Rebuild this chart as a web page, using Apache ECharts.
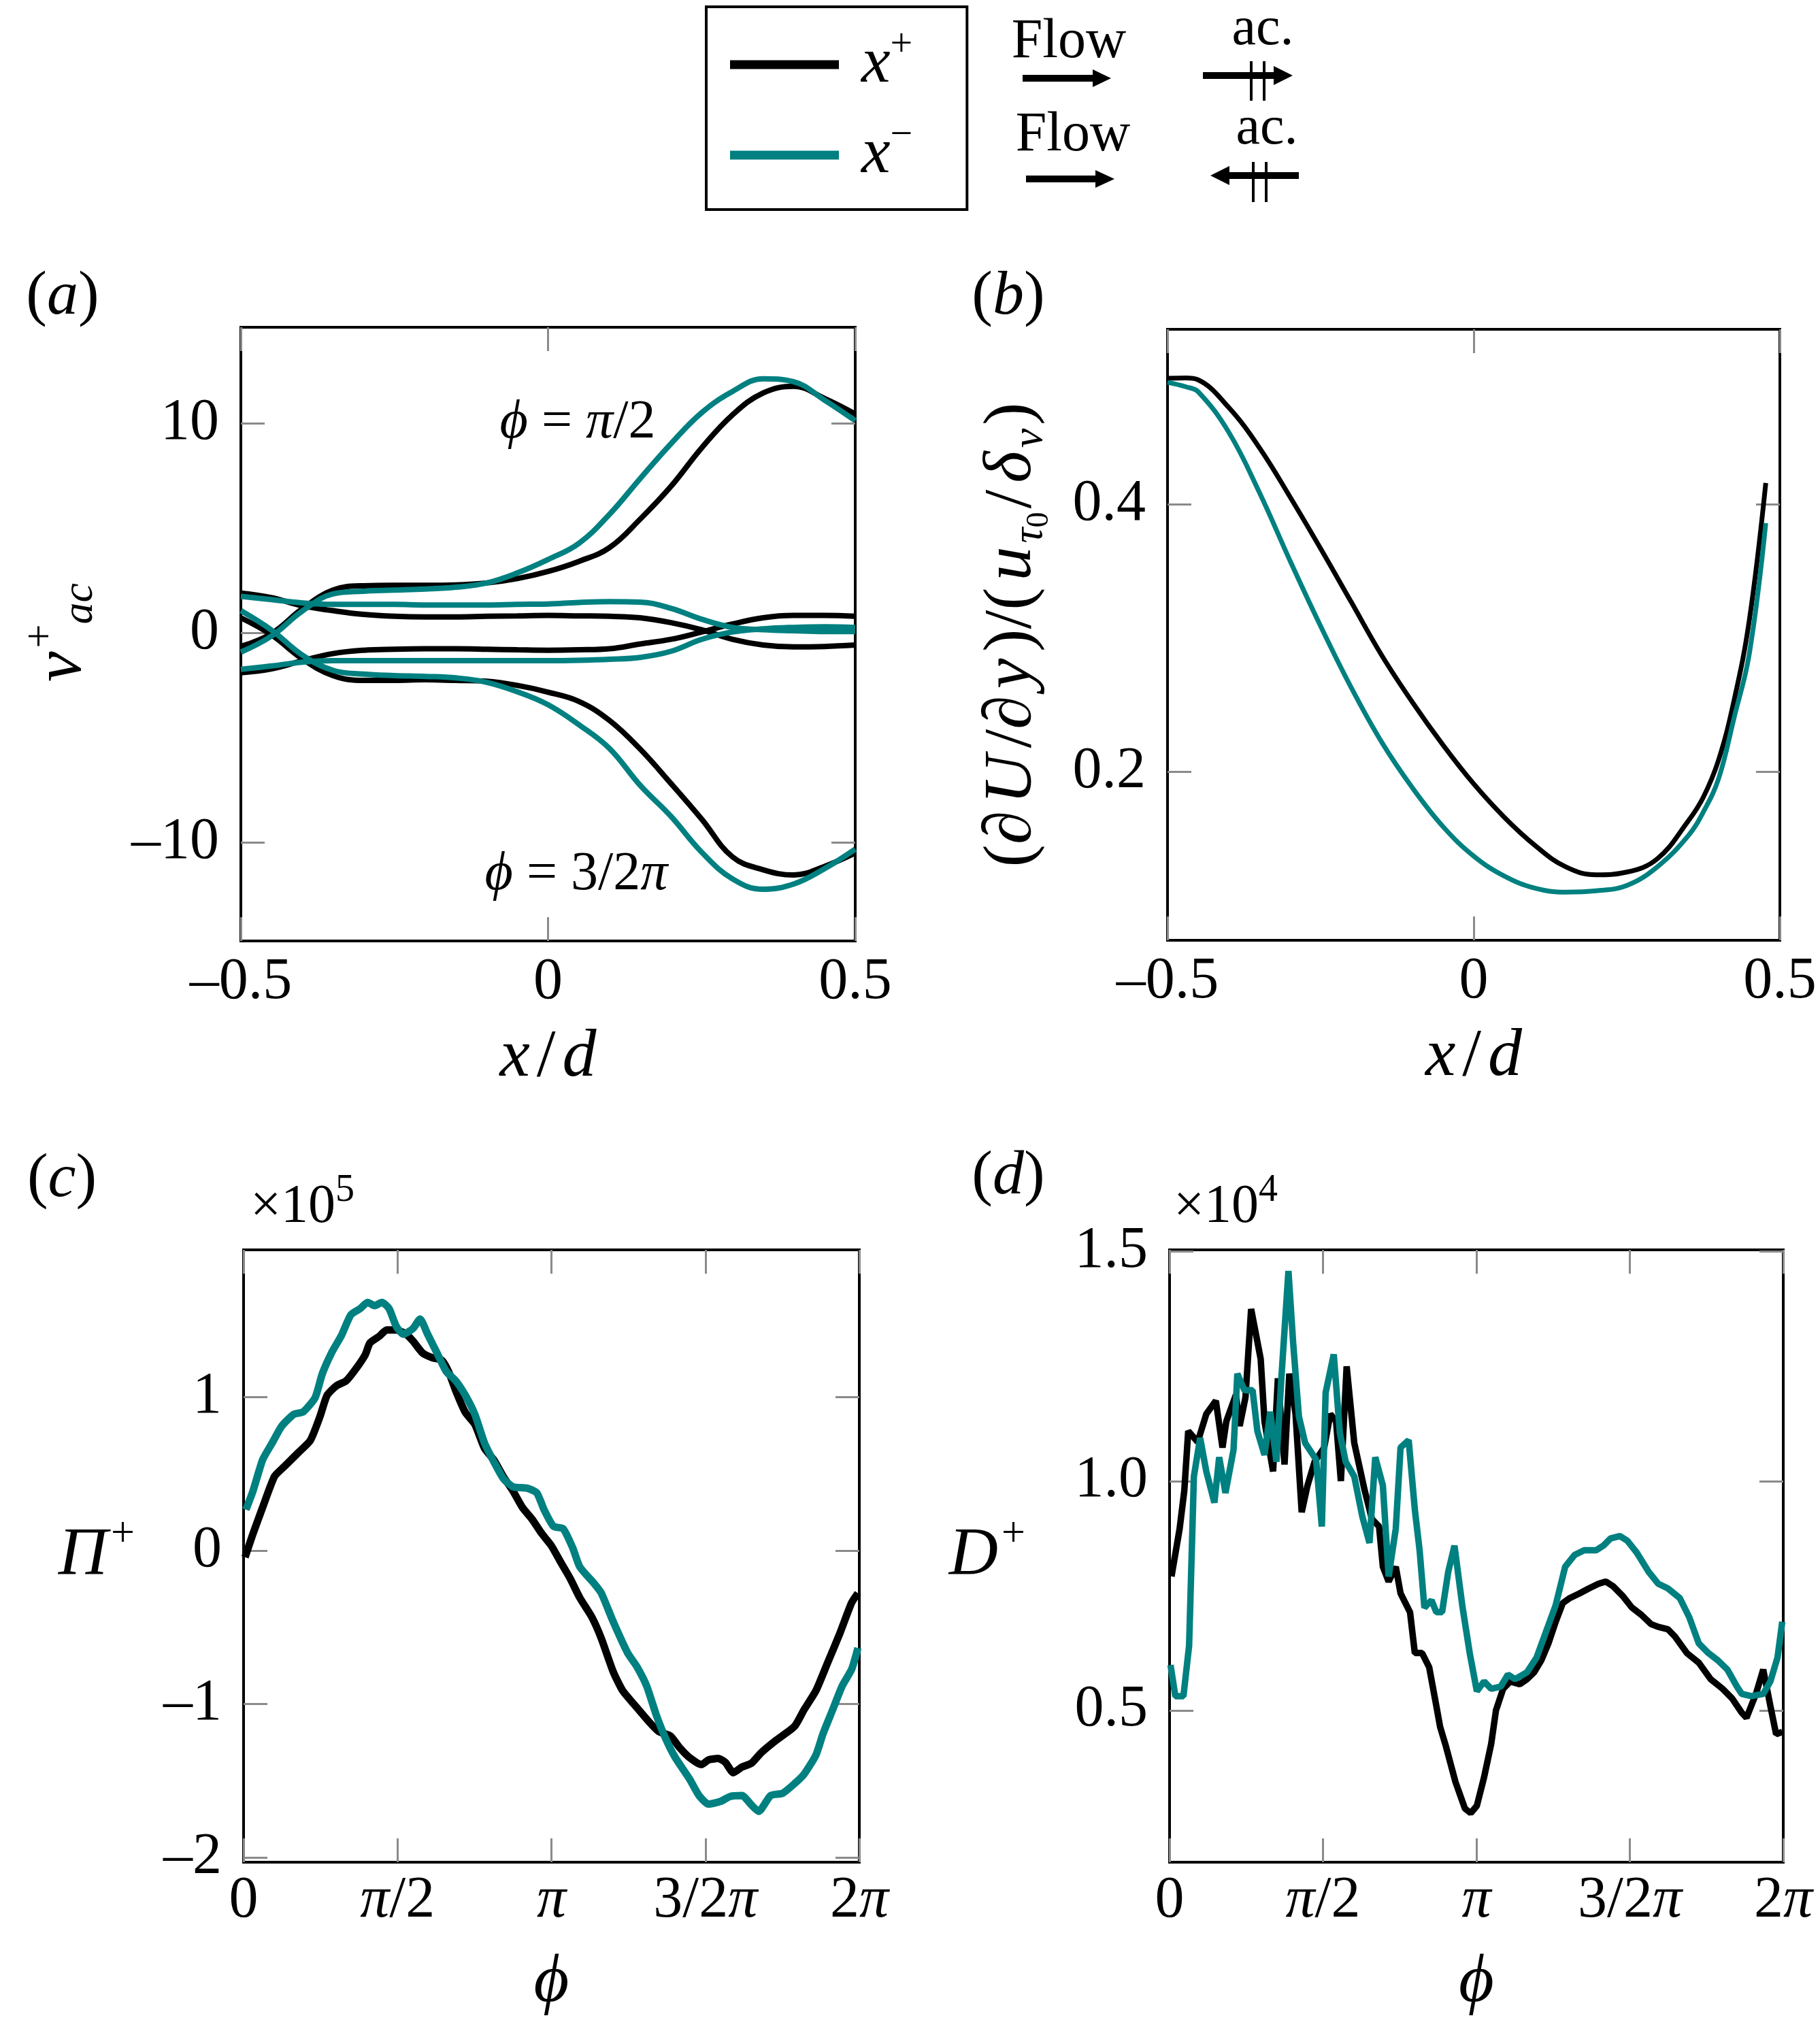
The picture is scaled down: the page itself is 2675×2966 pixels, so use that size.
<!DOCTYPE html>
<html><head><meta charset="utf-8">
<script src="https://cdn.jsdelivr.net/npm/echarts@6/dist/echarts.min.js"></script>
<style>html,body{margin:0;padding:0;background:#fff}#c{width:2675px;height:2966px}</style>
</head><body><div id="c"></div>
<script>
// ---------------- DATA ----------------
// panel (a): v+_ac vs x/d
const aX = [-0.5,-0.45,-0.4,-0.35,-0.3,-0.25,-0.2,-0.15,-0.1,-0.05,0,0.05,0.1,0.15,0.2,0.25,0.3,0.35,0.4,0.45,0.5];
const aPlusHalfPi  = [-0.64,-0.02,1.16,2.05,2.26,2.28,2.28,2.3,2.39,2.6,2.94,3.42,4.08,5.44,7.0,8.84,10.41,11.46,11.78,11.2,10.46];
const aMinusHalfPi = [-0.91,-0.14,1.05,1.87,2.0,2.05,2.1,2.19,2.39,2.87,3.51,4.28,5.67,7.38,9.04,10.52,11.53,12.14,12.0,11.12,10.14];
const aPlus3HalfPi  = [0.73,-0.09,-1.23,-2.03,-2.26,-2.26,-2.23,-2.26,-2.3,-2.5,-2.82,-3.26,-4.17,-5.54,-7.18,-8.88,-10.68,-11.3,-11.55,-11.14,-10.5];
const aMinus3HalfPi = [1.07,0.14,-1.05,-1.78,-1.96,-2.03,-2.07,-2.14,-2.35,-2.8,-3.42,-4.37,-5.51,-7.27,-8.75,-10.46,-11.73,-12.23,-11.98,-11.25,-10.32];
const aPlusZero  = [1.91,1.69,1.3,1.07,0.89,0.8,0.77,0.77,0.8,0.82,0.84,0.82,0.8,0.73,0.5,0.16,-0.3,-0.57,-0.66,-0.64,-0.57];
const aPlusPi    = [-1.89,-1.71,-1.32,-0.98,-0.82,-0.77,-0.75,-0.75,-0.77,-0.8,-0.82,-0.8,-0.75,-0.52,-0.3,0.05,0.43,0.73,0.84,0.84,0.8];
const aMinusZero = [1.75,1.6,1.44,1.37,1.37,1.37,1.34,1.34,1.34,1.37,1.39,1.46,1.5,1.48,1.18,0.66,0.27,0.16,0.11,0.07,0.07];
const aMinusPi   = [-1.73,-1.57,-1.39,-1.32,-1.32,-1.32,-1.32,-1.32,-1.32,-1.32,-1.32,-1.3,-1.25,-1.16,-0.87,-0.3,0.05,0.2,0.27,0.3,0.27];

// panel (b): shear
const bX = [-0.5,-0.47,-0.45,-0.4,-0.35,-0.3,-0.25,-0.2,-0.15,-0.1,-0.05,0,0.05,0.1,0.15,0.2,0.25,0.3,0.35,0.375,0.4,0.425,0.45,0.477];
const bPlus  = [0.4943,0.4946,0.4932,0.4725,0.4425,0.4057,0.367,0.327,0.287,0.252,0.22,0.191,0.166,0.145,0.129,0.123,0.125,0.135,0.163,0.181,0.209,0.253,0.313,0.416];
const bMinus = [0.4914,0.488,0.4843,0.454,0.409,0.358,0.309,0.263,0.222,0.188,0.159,0.137,0.122,0.113,0.110,0.111,0.115,0.129,0.152,0.170,0.195,0.240,0.288,0.386];

// panel (c): Pi+ (x1e5) vs phi
const cPlusPhi = [0.015,0.097,0.195,0.316,0.414,0.560,0.681,0.779,0.852,0.949,1.046,1.144,1.241,1.290,1.387,1.460,1.557,1.655,1.728,1.825,1.922,2.020,2.093,2.166,2.263,2.360,2.458,2.555,2.652,2.750,2.847,2.944,3.042,3.139,3.236,3.334,3.431,3.553,3.650,3.772,3.869,3.991,4.137,4.234,4.356,4.453,4.550,4.672,4.745,4.843,4.916,4.998,5.086,5.183,5.281,5.427,5.621,5.719,5.840,5.962,6.084,6.205,6.269];
const cPlus = [-0.043,0.112,0.283,0.484,0.547,0.640,0.718,0.873,1.012,1.075,1.106,1.183,1.276,1.354,1.398,1.438,1.438,1.413,1.366,1.289,1.258,1.242,1.165,1.041,0.901,0.823,0.668,0.590,0.481,0.388,0.280,0.205,0.112,0.034,-0.075,-0.183,-0.307,-0.432,-0.571,-0.789,-0.913,-1.006,-1.115,-1.177,-1.208,-1.286,-1.348,-1.394,-1.363,-1.354,-1.379,-1.447,-1.410,-1.385,-1.317,-1.239,-1.146,-1.037,-0.913,-0.727,-0.540,-0.339,-0.277];
const cMinusPhi = [0.024,0.097,0.195,0.292,0.389,0.511,0.608,0.730,0.803,0.900,0.998,1.095,1.192,1.265,1.338,1.411,1.484,1.557,1.630,1.728,1.801,1.874,1.971,2.068,2.166,2.263,2.360,2.458,2.555,2.652,2.750,2.896,2.993,3.066,3.163,3.261,3.358,3.431,3.577,3.650,3.772,3.918,4.015,4.113,4.210,4.307,4.405,4.551,4.648,4.745,4.867,4.964,5.086,5.183,5.256,5.378,5.500,5.621,5.719,5.840,5.913,6.011,6.108,6.205,6.269];
const cMinus = [0.267,0.391,0.593,0.702,0.811,0.888,0.904,0.997,1.152,1.292,1.401,1.537,1.578,1.618,1.596,1.618,1.578,1.463,1.410,1.447,1.509,1.416,1.292,1.168,1.106,1.012,0.888,0.702,0.578,0.469,0.416,0.407,0.376,0.267,0.158,0.143,0.019,-0.106,-0.214,-0.276,-0.463,-0.665,-0.758,-0.882,-1.068,-1.224,-1.348,-1.488,-1.596,-1.652,-1.634,-1.602,-1.596,-1.658,-1.699,-1.596,-1.581,-1.519,-1.457,-1.332,-1.193,-1.037,-0.882,-0.773,-0.634];

// panel (d): D+ (x1e4) vs phi
const dPlusPhi = [0.020,0.103,0.151,0.191,0.288,0.376,0.474,0.542,0.581,0.679,0.718,0.777,0.835,0.933,0.972,1.060,1.109,1.177,1.226,1.290,1.353,1.412,1.485,1.583,1.646,1.705,1.754,1.813,1.891,1.998,2.072,2.145,2.184,2.243,2.316,2.365,2.462,2.511,2.585,2.658,2.731,2.770,2.829,2.927,3.024,3.083,3.146,3.220,3.293,3.342,3.415,3.488,3.586,3.659,3.733,3.806,3.879,3.953,4.026,4.099,4.197,4.295,4.392,4.466,4.539,4.637,4.734,4.832,4.930,5.003,5.101,5.174,5.296,5.418,5.540,5.662,5.760,5.858,5.907,6.004,6.078,6.151,6.210,6.273];
const dPlus = [0.792,0.896,0.979,1.109,1.085,1.146,1.175,1.073,1.130,1.188,1.120,1.182,1.375,1.266,1.130,1.021,1.224,1.036,1.234,1.146,0.932,0.990,1.042,1.073,1.146,1.130,1.0,1.250,1.083,0.979,0.917,0.901,0.813,0.781,0.813,0.755,0.714,0.625,0.625,0.594,0.510,0.464,0.422,0.344,0.286,0.276,0.292,0.354,0.427,0.500,0.547,0.563,0.557,0.568,0.583,0.609,0.646,0.693,0.734,0.745,0.755,0.766,0.776,0.781,0.771,0.750,0.724,0.708,0.688,0.682,0.677,0.661,0.625,0.604,0.568,0.547,0.526,0.495,0.484,0.536,0.589,0.510,0.448,0.453];
const dMinusPhi = [0.010,0.059,0.142,0.200,0.249,0.313,0.376,0.459,0.508,0.572,0.655,0.694,0.767,0.850,0.899,0.972,1.031,1.094,1.143,1.217,1.265,1.324,1.388,1.500,1.559,1.598,1.681,1.744,1.803,1.891,1.974,2.047,2.106,2.184,2.243,2.316,2.365,2.448,2.511,2.560,2.609,2.682,2.731,2.790,2.853,2.917,3.000,3.073,3.146,3.220,3.293,3.391,3.464,3.537,3.659,3.757,3.855,3.953,4.050,4.148,4.246,4.368,4.441,4.515,4.612,4.686,4.783,4.905,5.003,5.101,5.223,5.321,5.418,5.516,5.614,5.711,5.809,5.858,5.956,6.078,6.151,6.224,6.273];
const dMinus = [0.599,0.531,0.531,0.641,1.010,1.094,1.021,0.953,1.052,0.974,1.068,1.234,1.198,1.198,1.109,1.057,1.151,1.042,1.219,1.458,1.302,1.141,1.083,1.047,0.901,1.193,1.276,1.104,1.042,1.010,0.922,0.865,1.052,0.990,0.792,0.896,1.073,1.089,0.938,0.849,0.724,0.740,0.714,0.714,0.802,0.859,0.724,0.625,0.542,0.563,0.547,0.552,0.578,0.568,0.583,0.615,0.672,0.729,0.813,0.839,0.849,0.849,0.859,0.875,0.880,0.870,0.844,0.802,0.776,0.766,0.745,0.703,0.646,0.625,0.609,0.589,0.552,0.536,0.531,0.536,0.563,0.615,0.693];

// tick values / labels
const xdTicks = [-0.5, 0, 0.5];
const xdLabels = ['–0.5', '0', '0.5'];
const aYTicks = [-10, 0, 10];
const aYLabels = ['–10', '0', '10'];
const bYTicks = [0.2, 0.4];
const bYLabels = ['0.2', '0.4'];
const phiTicks = [0, 1.5708, 3.1416, 4.7124, 6.2832];
const phiLabels = ['0', '{p|π}/2', '{p|π}', '3/2{p|π}', '2{p|π}'];
const cYTicks = [-2, -1, 0, 1];
const cYLabels = ['–2', '–1', '0', '1'];
const dYTicks = [0.5, 1.0, 1.5];
const dYLabels = ['0.5', '1.0', '1.5'];

// ---------------- STYLE ----------------
const SERIF = 'Liberation Serif';
const BLACK = '#000000';
const TEAL = '#008080';
const zip = (xs, ys) => xs.map((x, i) => [x, ys[i]]);

const grids = [
  {left: 354, top: 481, width: 903, height: 902},
  {left: 1716, top: 484, width: 900, height: 898},
  {left: 358, top: 1837, width: 905, height: 900},
  {left: 1719, top: 1837, width: 902, height: 900}
].map(g => Object.assign(g, {show: true, borderColor: '#000', borderWidth: 4, backgroundColor: 'transparent'}));

const richBase = {
  n: {fontFamily: SERIF, fontSize: 100, color: '#000', padding: [0, 5, 0, 5]},
  i: {fontFamily: SERIF, fontStyle: 'italic', fontSize: 100, color: '#000', padding: [0, 5, 0, 5]},
  sup: {fontFamily: SERIF, fontSize: 62, color: '#000', padding: [0, 0, 62, 0]},
  sub: {fontFamily: SERIF, fontStyle: 'italic', fontSize: 64, color: '#000', padding: [52, 0, 0, 0]},
  subn: {fontFamily: SERIF, fontSize: 46, color: '#000', padding: [80, 0, 0, 0]},
  p: {fontFamily: SERIF, fontStyle: 'italic', fontSize: 86, color: '#000'}
};

function lookup(ticks, labels) {
  return v => {
    const k = ticks.findIndex(t => Math.abs(t - v) < 1e-6);
    return k >= 0 ? labels[k] : '';
  };
}
const tickStyle = (vals) => ({show: true, inside: true, length: 35, customValues: vals, lineStyle: {color: '#8a8a8a', width: 3}});
const noLine = {show: false, onZero: false};

function mkAxes(gi, xr, yr, xt, xl, yt, yl, xname, yname, opt) {
  const xs = [
    {type: 'value', gridIndex: gi, position: 'bottom', min: xr[0], max: xr[1],
     axisLine: noLine, splitLine: {show: false}, axisTick: tickStyle(xt),
     axisLabel: {show: true, customValues: xt, formatter: lookup(xt, xl), margin: opt.xMargin,
                 fontFamily: SERIF, fontSize: 86, color: '#000', rich: richBase},
     name: xname, nameLocation: 'middle', nameGap: opt.xNameGap,
     nameTextStyle: {fontFamily: SERIF, fontSize: 104, color: '#000', rich: richBase}},
    {type: 'value', gridIndex: gi, position: 'top', min: xr[0], max: xr[1],
     axisLine: noLine, splitLine: {show: false}, axisTick: tickStyle(xt), axisLabel: {show: false}}
  ];
  const ys = [
    {type: 'value', gridIndex: gi, position: 'left', min: yr[0], max: yr[1],
     axisLine: noLine, splitLine: {show: false}, axisTick: tickStyle(yt),
     axisLabel: {show: true, customValues: yt, formatter: lookup(yt, yl), margin: 32,
                 fontFamily: SERIF, fontSize: 86, color: '#000'},
     name: yname, nameLocation: 'middle', nameGap: opt.yNameGap, nameRotate: opt.yRot,
     nameTextStyle: {fontFamily: SERIF, fontSize: 100, color: '#000', rich: richBase}},
    {type: 'value', gridIndex: gi, position: 'right', min: yr[0], max: yr[1],
     axisLine: noLine, splitLine: {show: false}, axisTick: tickStyle(yt), axisLabel: {show: false}}
  ];
  return {xs, ys};
}

const A = mkAxes(0, [-0.5, 0.5], [-14.7, 14.6], xdTicks, xdLabels, aYTicks, aYLabels,
  '{i|x}{n|/}{i|d}', '{i|v}{sup|+}{sub|ac}', {xMargin: 18, xNameGap: 122, yNameGap: 200, yRot: 90});
const B = mkAxes(1, [-0.5, 0.5], [0.074, 0.531], xdTicks, xdLabels, bYTicks, bYLabels,
  '{i|x}{n|/}{i|d}', '{n|(∂}{i|U}{n|/∂}{i|y}{n|)/(}{i|u}{sub|τ}{subn|0}{n|/}{i|δ}{sub|ν}{n|)}', {xMargin: 18, xNameGap: 122, yNameGap: 165, yRot: 90});
const C = mkAxes(2, [0, 6.2832], [-2.03, 1.96], phiTicks, phiLabels, cYTicks, cYLabels,
  '{i|ϕ}', '{i|Π}{sup|+}', {xMargin: 14, xNameGap: 128, yNameGap: 160, yRot: 0});
const D = mkAxes(3, [0, 6.2832], [0.169, 1.504], phiTicks, phiLabels, dYTicks, dYLabels,
  '{i|ϕ}', '{i|D}{sup|+}', {xMargin: 14, xNameGap: 128, yNameGap: 212, yRot: 0});

function line(name, color, gi, data, width, smooth) {
  return {type: 'line', name, xAxisIndex: gi * 2, yAxisIndex: gi * 2, data, symbol: 'none',
          smooth: smooth, lineStyle: {color, width}, itemStyle: {color}, color, z: name === 'x-' ? 3 : 2};
}

const series = [
  line('x+', BLACK, 0, zip(aX, aPlusZero), 8, 0.4),
  line('x+', BLACK, 0, zip(aX, aPlusPi), 8, 0.4),
  line('x+', BLACK, 0, zip(aX, aPlusHalfPi), 8, 0.4),
  line('x+', BLACK, 0, zip(aX, aPlus3HalfPi), 8, 0.4),
  line('x-', TEAL, 0, zip(aX, aMinusZero), 8, 0.4),
  line('x-', TEAL, 0, zip(aX, aMinusPi), 8, 0.4),
  line('x-', TEAL, 0, zip(aX, aMinusHalfPi), 8, 0.4),
  line('x-', TEAL, 0, zip(aX, aMinus3HalfPi), 8, 0.4),
  line('x+', BLACK, 1, zip(bX, bPlus), 7, 0.4),
  line('x-', TEAL, 1, zip(bX, bMinus), 7, 0.4),
  line('x+', BLACK, 2, zip(cPlusPhi, cPlus), 11, 0.2),
  line('x-', TEAL, 2, zip(cMinusPhi, cMinus), 11, 0.2),
  line('x+', BLACK, 3, zip(dPlusPhi, dPlus), 9.5, false),
  line('x-', TEAL, 3, zip(dMinusPhi, dMinus), 9.5, false)
];

const T = (x, y, text, size, extra) => ({type: 'text', x, y, silent: true,
  style: Object.assign({text, fontFamily: SERIF, fontSize: size, fill: '#000', align: 'center', verticalAlign: 'middle'}, extra || {})});
const richG = {
  n: {fontFamily: SERIF, fontSize: 92, fill: '#000'},
  i: {fontFamily: SERIF, fontStyle: 'italic', fontSize: 92, fill: '#000'},
  ai: {fontFamily: SERIF, fontStyle: 'italic', fontSize: 80, fill: '#000'},
  an: {fontFamily: SERIF, fontSize: 80, fill: '#000'},
  en: {fontFamily: SERIF, fontSize: 80, fill: '#000'},
  es: {fontFamily: SERIF, fontSize: 56, fill: '#000', padding: [0, 0, 50, 0]}
};
const LN = (x1, y1, x2, y2, w) => ({type: 'line', silent: true, shape: {x1, y1, x2, y2}, style: {stroke: '#000', lineWidth: w}});
const PG = (pts) => ({type: 'polygon', silent: true, shape: {points: pts}, style: {fill: '#000'}});

const graphic = [
  T(92, 437, '{n|(}{i|a}{n|)}', 92, {rich: richG}),
  T(1482, 437, '{n|(}{i|b}{n|)}', 92, {rich: richG}),
  T(91, 1734, '{n|(}{i|c}{n|)}', 92, {rich: richG}),
  T(1482, 1730, '{n|(}{i|d}{n|)}', 92, {rich: richG}),
  T(368, 1775, '{en|×10}{es|5}', 80, {rich: richG, align: 'left'}),
  T(1725, 1775, '{en|×10}{es|4}', 80, {rich: richG, align: 'left'}),
  T(849, 622, '{ai|ϕ}{an| = }{ai|π}{an|/2}', 80, {rich: richG}),
  T(847, 1286, '{ai|ϕ}{an| = 3/2}{ai|π}', 80, {rich: richG}),
  // flow / acoustic direction key
  T(1571, 62, 'Flow', 82),
  T(1577, 199, 'Flow', 82),
  T(1856, 44, 'ac.', 80),
  T(1862, 190, 'ac.', 80),
  LN(1503, 115, 1610, 115, 10), PG([[1606, 102], [1633, 115], [1606, 128]]),
  LN(1508, 263, 1614, 263, 10), PG([[1610, 250], [1638, 263], [1610, 276]]),
  LN(1768, 111, 1878, 111, 10), PG([[1872, 97], [1900, 111], [1872, 125]]),
  LN(1839, 90, 1839, 148, 4), LN(1858, 90, 1858, 148, 4),
  LN(1803, 258, 1909, 258, 10), PG([[1807, 244], [1779, 258], [1807, 272]]),
  LN(1842, 238, 1842, 297, 4), LN(1861, 238, 1861, 297, 4)
];

const chart = echarts.init(document.getElementById('c'), null, {renderer: 'canvas', width: 2675, height: 2966});
chart.setOption({
  animation: false,
  backgroundColor: '#fff',
  grid: grids,
  xAxis: [...A.xs, ...B.xs, ...C.xs, ...D.xs],
  yAxis: [...A.ys, ...B.ys, ...C.ys, ...D.ys],
  legend: {
    data: ['x+', 'x-'], orient: 'vertical', left: 1038, top: 10,
    padding: [28, 80, 30, 35], itemGap: 26, itemWidth: 160, itemHeight: 13, icon: 'rect',
    borderColor: '#000', borderWidth: 4, selectedMode: false,
    formatter: n => n === 'x+' ? '{i|x}{s|+}' : '{i|x}{s|−}',
    textStyle: {lineHeight: 100, rich: {
      i: {fontFamily: SERIF, fontStyle: 'italic', fontSize: 96, color: '#000', padding: [0, 0, 0, 28]},
      s: {fontFamily: SERIF, fontSize: 58, color: '#000', padding: [0, 0, 56, 0]}
    }}
  },
  series,
  graphic
});
</script></body></html>
